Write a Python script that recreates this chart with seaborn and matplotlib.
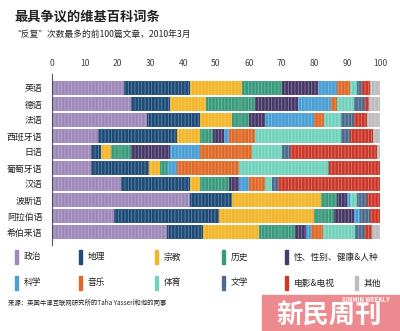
import matplotlib
matplotlib.use("Agg")
import matplotlib.pyplot as plt
import seaborn as sns
import pandas as pd
import numpy as np
from matplotlib.patches import Rectangle

sns.set_theme(style="white")
plt.rcParams['font.family'] = ['Noto Sans CJK SC', 'DejaVu Sans']
plt.rcParams['hatch.linewidth'] = 0.5

languages = ["英语", "德语", "法语", "西班牙语", "日语", "葡萄牙语", "汉语", "波斯语", "阿拉伯语", "希伯来语"]
categories = ["政治", "地理", "宗教", "历史", "性、性别、健康&人种", "科学", "音乐", "体育", "文学", "电影&电视", "其他"]
colors = ["#9d88b9", "#1f4d78", "#f3b62b", "#3a9a7c", "#4a3a6a", "#4a9ed6", "#df6a27", "#72d3bd", "#4e6b8e", "#cb3a2b", "#bdbdbd"]

politics   = [22, 24, 29, 14, 12, 12, 21, 42, 19, 35]
geography  = [20, 12, 16, 24, 3, 17.5, 21, 13, 32, 11]
religion   = [16, 11, 10, 7, 3, 3.5, 3, 27, 29, 17]
history    = [12, 15, 5, 4, 6, 2, 9, 5, 6, 11]
sex        = [11, 13, 5, 3.5, 12, 0, 3, 3, 6, 3.5]
science    = [6, 10, 15, 1.5, 9, 3, 3, 1, 2, 1.5]
music      = [4, 2, 3, 8, 16, 19, 5, 0, 0, 3.5]
sports     = [2, 5, 5, 26, 9, 27, 2, 2, 0, 10]
literature = [1.5, 3.5, 4, 3, 2.5, 0.5, 2, 3, 3, 3]
film       = [2.5, 1, 4, 7, 26.5, 15.5, 31, 4, 3, 2]
other      = [3, 3.5, 4, 2, 1, 0, 0, 0, 0, 2.5]

series = [politics, geography, religion, history, sex, science, music, sports, literature, film, other]
df = pd.DataFrame({c: s for c, s in zip(categories, series)}, index=languages)
cum = df.cumsum(axis=1)

fig = plt.figure(figsize=(4.0, 3.31), dpi=100)
fig.patch.set_facecolor("white")
ax = fig.add_axes([52/400, 1-244.8/331, 328/400, 171.2/331])

for cat, col in reversed(list(zip(categories, colors))):
    data = pd.DataFrame({"lang": languages, "val": cum[cat].values})
    sns.barplot(data=data, x="val", y="lang", color=col, orient="h", ax=ax,
                width=0.86, saturation=1, order=languages)

for p in ax.patches:
    p.set_hatch("|||||")
    p.set_edgecolor((1, 1, 1, 0.35))
    p.set_linewidth(0)

ax.set_xlim(0, 100)
ax.set_ylim(9.8, -0.9)
ax.xaxis.tick_top()
ax.set_xticks(range(0, 101, 10))
ax.tick_params(axis="x", length=0, pad=4, labelsize=6.2, colors="#444444")
ax.tick_params(axis="y", length=0, pad=7, labelsize=6.4, colors="#222222")
ax.set_xlabel("")
ax.set_ylabel("")
for s in ["top", "right", "bottom"]:
    ax.spines[s].set_visible(False)
ax.spines["left"].set_color("#555555")
ax.spines["left"].set_linewidth(0.8)

# Titles
fig.text(14/400, 1-17/331, "最具争议的维基百科词条", fontsize=9.5, fontweight="bold",
         color="#222222", va="center", ha="left")
fig.text(12/400, 1-34/331, "“反复”次数最多的前100篇文章，2010年3月", fontsize=6.3,
         color="#222222", va="center", ha="left")

# Legend
row1_y, row2_y = 257, 283
pos = [(15, row1_y), (79, row1_y), (155, row1_y), (222, row1_y), (285, row1_y),
       (15, row2_y), (79, row2_y), (155, row2_y), (222, row2_y), (285, row2_y), (355, row2_y)]
for (px, py), cat, col in zip(pos, categories, colors):
    fig.patches.append(Rectangle((px/400, 1-(py+7)/331), 3/400, 14/331,
                                 transform=fig.transFigure, color=col, figure=fig))
    fig.text((px+9)/400, 1-py/331, cat, fontsize=6.3, color="#222222", va="center", ha="left")

fig.text(8/400, 1-303/331, "来源：英国牛津互联网研究所的Taha Yasseri和他的同事", fontsize=4.6,
         color="#222222", va="center", ha="left")

# Logo
fig.patches.append(Rectangle((262/400, 0), 138/400, 36/331, transform=fig.transFigure,
                             color="#ec8a90", figure=fig))
fig.text(329/400, 1-316/331, "新民周刊", fontsize=19, fontweight="bold", color="white",
         va="center", ha="center")
fig.text(390/400, 1-300/331, "XINMIN WEEKLY", fontsize=4.4, fontweight="bold", color="white",
         va="center", ha="right")

fig.savefig("out.png", dpi=100, facecolor="white")
